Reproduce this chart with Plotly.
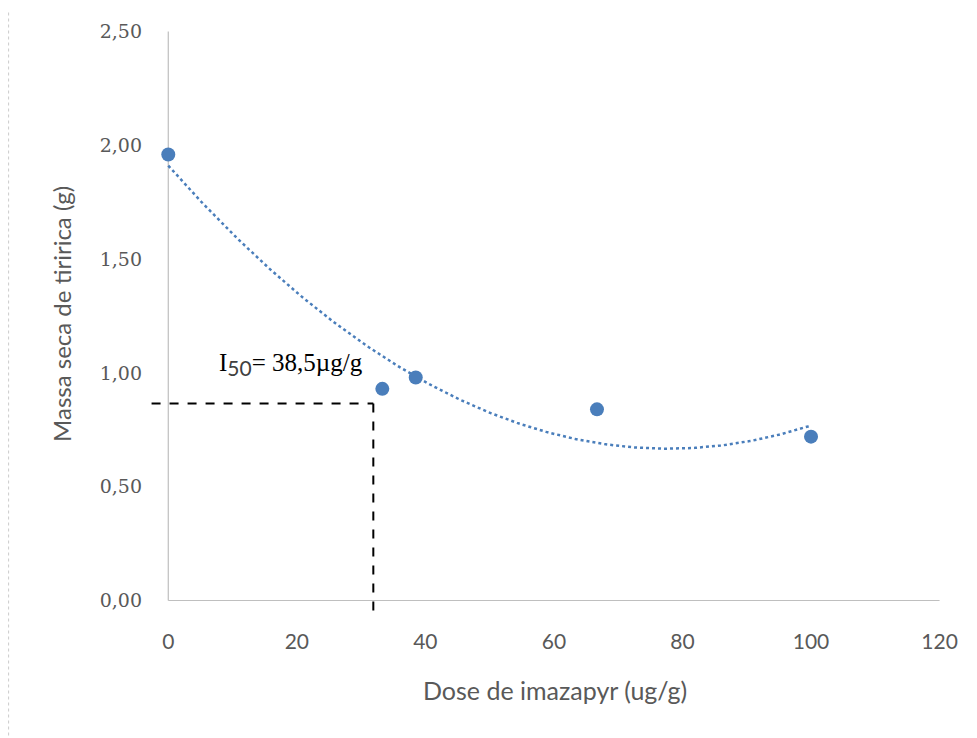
import numpy as np
import plotly.graph_objects as go

# Data
dose = [0, 33.3, 38.5, 66.7, 100]
massa = [1.96, 0.93, 0.98, 0.84, 0.72]
x_ticks = [0, 20, 40, 60, 80, 100, 120]
y_ticks = [0, 0.5, 1.0, 1.5, 2.0, 2.5]
y_tick_labels = ["0,00", "0,50", "1,00", "1,50", "2,00", "2,50"]
i50_x = 31.9
i50_y = 0.866

# Polynomial (order 2) trendline fitted to the data, like Excel
coef = np.polyfit(dose, massa, 2)
xt = np.linspace(min(dose), max(dose), 200)
yt = np.polyval(coef, xt)

blue = "#4A7EBB"
gray = "#595959"

# page body has an 8px margin: place everything relative to the figure
OFF = 8
L, T = 148.7 - OFF, 27.4 - OFF
W, H = 797.3, 594.0
R, B = 977 - L - W, 738 - T - H


def px_to_paper(px, py):
    return (px - OFF - L) / W, 1 - (py - OFF - T) / H


fig = go.Figure()
fig.add_trace(go.Scatter(x=xt, y=yt, mode="lines",
                         line=dict(color=blue, width=2.5, dash="dot"),
                         hoverinfo="skip", showlegend=False))
fig.add_trace(go.Scatter(x=dose, y=massa, mode="markers",
                         marker=dict(color=blue, size=14),
                         showlegend=False, cliponaxis=False))

# axis lines
fig.add_shape(type="line", x0=0, x1=120, y0=0, y1=0, xref="x", yref="y",
              line=dict(color="#BFBFBF", width=1.2), layer="below")
fig.add_shape(type="line", x0=0, x1=0, y0=0, y1=2.5, xref="x", yref="y",
              line=dict(color="#BFBFBF", width=1.2), layer="below")

# I50 dashed guides
fig.add_shape(type="line", x0=-2.6, x1=i50_x, y0=i50_y, y1=i50_y, xref="x", yref="y",
              line=dict(color="black", width=2, dash="dash"))
fig.add_shape(type="line", x0=i50_x, x1=i50_x, y0=i50_y, y1=-0.075, xref="x", yref="y",
              line=dict(color="black", width=2, dash="dash"))

# left dotted border of the page frame
bx, _ = px_to_paper(8, 0)
_, by0 = px_to_paper(0, 736)
_, by1 = px_to_paper(0, 12)
fig.add_shape(type="line", xref="paper", yref="paper",
              x0=bx, x1=bx, y0=by0, y1=by1,
              line=dict(color="#D0D0D0", width=1.5, dash="dot"))

fig.add_annotation(x=7.6, y=1.037, xref="x", yref="y", xanchor="left", yanchor="middle",
                   text="I<sub><span style='font-family:Lato;font-size:21px;color:#404040'>50</span></sub>= 38,5µg/g",
                   showarrow=False,
                   font=dict(family="Liberation Serif", size=25, color="black"))

ax, ay = px_to_paper(61, 314)
fig.add_annotation(x=ax, y=ay, xref="paper", yref="paper", text="Massa seca de tiririca (g)",
                   showarrow=False, textangle=-90, xanchor="center", yanchor="middle",
                   font=dict(family="Lato", size=24, color=gray))
ax, ay = px_to_paper(555, 690)
fig.add_annotation(x=ax, y=ay, xref="paper", yref="paper", text="Dose de imazapyr (ug/g)",
                   showarrow=False, xanchor="center", yanchor="middle",
                   font=dict(family="Lato", size=25, color=gray))

fig.update_layout(
    width=977, height=738,
    margin=dict(l=L, r=R, t=T, b=B),
    paper_bgcolor="white", plot_bgcolor="white",
    xaxis=dict(range=[-3, 121], tickvals=x_ticks, ticktext=[str(v) for v in x_ticks],
               showgrid=False, zeroline=False, showline=False, ticks="",
               tickfont=dict(family="Lato", size=21, color=gray), ticklabelstandoff=6),
    yaxis=dict(range=[-0.09, 2.52], tickvals=y_ticks, ticktext=y_tick_labels,
               showgrid=False, zeroline=False, showline=False, ticks="",
               tickfont=dict(family="DejaVu Serif", size=19, color=gray),
               ticklabelstandoff=6),
)

fig.write_html("out.html")
